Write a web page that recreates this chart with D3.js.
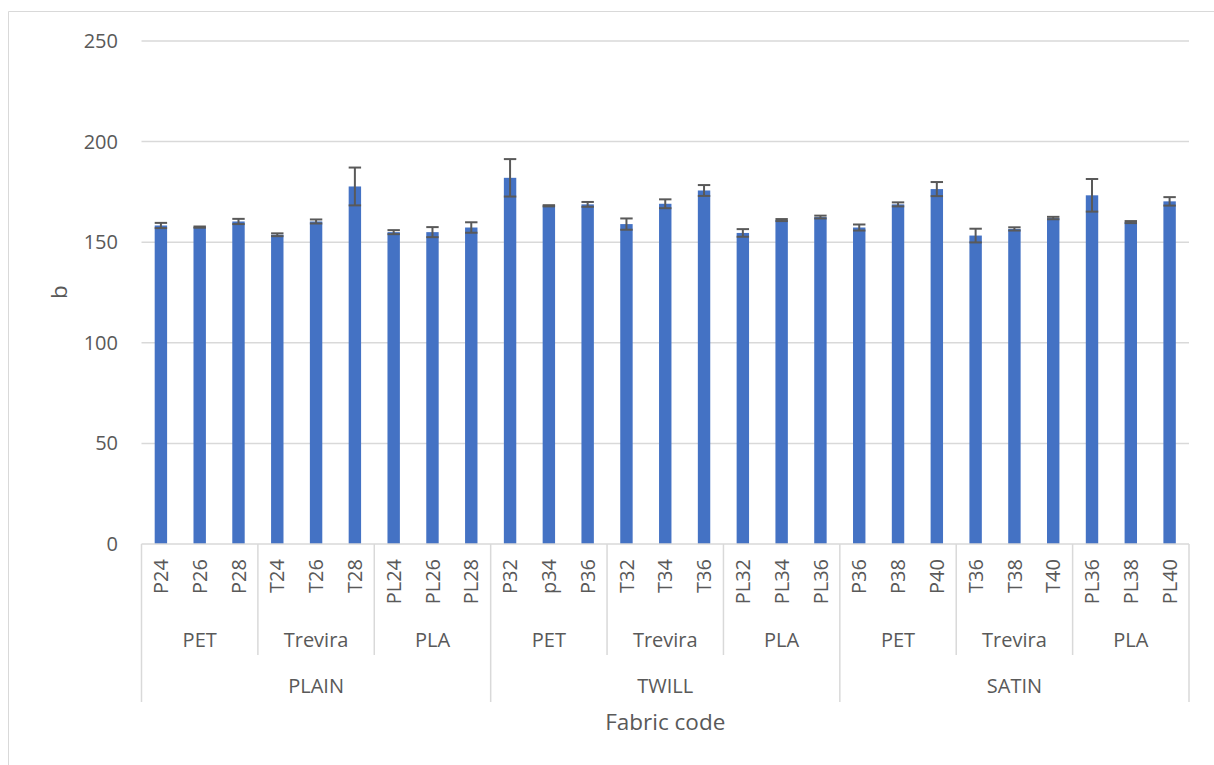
<!DOCTYPE html>
<html>
<head>
<meta charset="utf-8">
<script src="https://cdn.jsdelivr.net/npm/d3@7/dist/d3.min.js"></script>
<style>
  html, body { margin: 0; padding: 0; background: #fff; }
  svg { display: block; }
  text { font-family: "Open Sans", "Liberation Sans", sans-serif; fill: #595959; }
</style>
</head>
<body>
<svg id="chart" width="1214" height="765"></svg>
<script>
const weaves = ["PLAIN", "TWILL", "SATIN"];
const materials = ["PET", "Trevira", "PLA"];
const codes = [
  "P24", "P26", "P28", "T24", "T26", "T28", "PL24", "PL26", "PL28",
  "P32", "p34", "P36", "T32", "T34", "T36", "PL32", "PL34", "PL36",
  "P36", "P38", "P40", "T36", "T38", "T40", "PL36", "PL38", "PL40"
];
const values = [
  158.3, 157.5, 160.3, 153.7, 160.3, 177.7, 155.0, 155.0, 157.3,
  182.0, 168.1, 168.8, 159.0, 169.1, 175.7, 154.6, 161.0, 162.5,
  157.3, 168.8, 176.4, 153.3, 156.6, 162.0, 173.3, 160.0, 170.3
];
const errors = [
  1.3, 0.3, 1.3, 0.7, 1.0, 9.4, 1.0, 2.5, 2.6,
  9.3, 0.3, 1.2, 2.8, 2.2, 2.7, 1.9, 0.5, 0.7,
  1.5, 1.0, 3.5, 3.4, 0.8, 0.6, 8.1, 0.5, 2.1
];
const yTicks = [0, 50, 100, 150, 200, 250];

(function () {
const svg = d3.select("#chart");
const pLeft = 141.5, pRight = 1189, pTop = 41, pBottom = 544;

// outer chart border (top and left visible)
svg.append("line").attr("x1", 8.5).attr("x2", 1214).attr("y1", 11.5).attr("y2", 11.5)
  .attr("stroke", "#d9d9d9").attr("stroke-width", 1);
svg.append("line").attr("x1", 8.5).attr("x2", 8.5).attr("y1", 11.5).attr("y2", 765)
  .attr("stroke", "#d9d9d9").attr("stroke-width", 1);

const idx = d3.range(codes.length);
const x = d3.scaleBand().domain(idx).range([pLeft, pRight]).paddingInner(0.68).paddingOuter(0.34);
const step = x.step();
const y = d3.scaleLinear().domain([0, 250]).range([pBottom, pTop]);

// gridlines
svg.append("g").selectAll("line").data(yTicks.filter(d => d > 0)).join("line")
  .attr("x1", pLeft).attr("x2", pRight)
  .attr("y1", d => y(d)).attr("y2", d => y(d))
  .attr("stroke", "#d9d9d9").attr("stroke-width", 1.5);

// y axis labels
const yAxis = d3.axisLeft(y).tickValues(yTicks).tickSize(0).tickPadding(0);
const yg = svg.append("g").attr("transform", `translate(${118},0)`).call(yAxis);
yg.select(".domain").remove();
yg.selectAll("text").attr("font-size", 20).attr("fill", "#595959")
  .style("font-family", "'Open Sans', sans-serif");

// bars
svg.append("g").selectAll("rect").data(idx).join("rect")
  .attr("x", i => x(i)).attr("width", x.bandwidth())
  .attr("y", i => y(values[i])).attr("height", i => y(0) - y(values[i]))
  .attr("fill", "#4472c4");

// error bars
const eg = svg.append("g").attr("stroke", "#595959").attr("stroke-width", 2);
idx.forEach(i => {
  const cx = x(i) + x.bandwidth() / 2;
  const hw = x.bandwidth() / 2;
  const hi = y(values[i] + errors[i]), lo = y(values[i] - errors[i]);
  eg.append("line").attr("x1", cx).attr("x2", cx).attr("y1", hi).attr("y2", lo);
  eg.append("line").attr("x1", cx - hw).attr("x2", cx + hw).attr("y1", hi).attr("y2", hi);
  eg.append("line").attr("x1", cx - hw).attr("x2", cx + hw).attr("y1", lo).attr("y2", lo);
});

// x axis baseline
svg.append("line").attr("x1", pLeft).attr("x2", pRight).attr("y1", pBottom).attr("y2", pBottom)
  .attr("stroke", "#d9d9d9").attr("stroke-width", 1.5);

// level 0: code labels (rotated)
svg.append("g").selectAll("text").data(idx).join("text")
  .attr("transform", i => `translate(${x(i) + x.bandwidth() / 2},${559}) rotate(-90)`)
  .attr("text-anchor", "end").attr("dy", "0.36em")
  .attr("font-size", 20)
  .text(i => codes[i]);

// separators
const sepG = svg.append("g").attr("stroke", "#d9d9d9").attr("stroke-width", 1.5);
for (let k = 0; k <= codes.length; k += 3) {
  const xx = pLeft + k * step;
  const isMajor = k % 9 === 0;
  sepG.append("line").attr("x1", xx).attr("x2", xx)
    .attr("y1", pBottom).attr("y2", isMajor ? 702 : 655);
}

// level 1: materials
const groups1 = d3.range(weaves.length * materials.length);
svg.append("g").selectAll("text").data(groups1).join("text")
  .attr("x", g => pLeft + (g * 3 + 1.5) * step)
  .attr("y", 647)
  .attr("text-anchor", "middle").attr("font-size", 20)
  .text(g => materials[g % materials.length]);

// level 2: weaves
svg.append("g").selectAll("text").data(weaves).join("text")
  .attr("x", (d, i) => pLeft + (i * 9 + 4.5) * step)
  .attr("y", 693)
  .attr("text-anchor", "middle").attr("font-size", 20)
  .text(d => d);

// axis titles
svg.append("text").attr("x", (pLeft + pRight) / 2).attr("y", 730)
  .attr("text-anchor", "middle").attr("font-size", 22.5).text("Fabric code");
svg.append("text").attr("transform", `translate(${59},${292}) rotate(-90)`)
  .attr("text-anchor", "middle").attr("dy", "0.35em").attr("font-size", 22.5).text("b");
})();
</script>
</body>
</html>
